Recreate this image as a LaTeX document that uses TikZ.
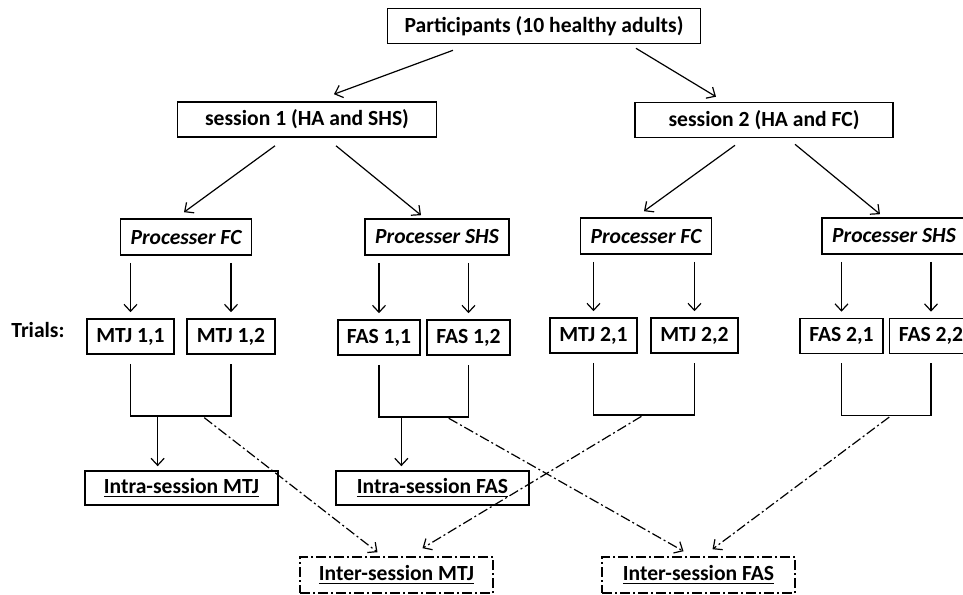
\documentclass[tikz,border=0pt]{standalone}
\usepackage{fontspec}
\setmainfont{Carlito}
\usetikzlibrary{calc,arrows.meta}

\begin{document}
\begin{tikzpicture}[
  x=0.5pt, y=-0.5pt,
  >={Straight Barb[length=3.5pt, width=6.5pt]},
  every node/.style={font=\fontsize{10.8}{13}\selectfont\bfseries, inner sep=1pt},
  box/.style={draw, line width=0.8pt, minimum height=17.5pt},
  procbox/.style={box, font=\fontsize{10.8}{13}\selectfont\bfseries\itshape, minimum height=18pt},
  interbox/.style={box, minimum height=18pt, dash pattern=on 5pt off 1.5pt on 1pt off 1.5pt},
  link/.style={->, line width=0.6pt},
  drop/.style={link, shorten <=3.5pt, shorten >=3pt},
  crosslink/.style={link, shorten <=1.5pt, dash pattern=on 5pt off 1.5pt on 1pt off 1.5pt},
  bracket/.style={line width=0.7pt}
]
  \useasboundingbox (0,0) rectangle (963,594);

  \node[box, minimum width=156.5pt] (part) at (544,26) {Participants (10 healthy adults)};
  \node[box, minimum width=129.5pt] (s1) at (307,119.5) {session 1 (HA and SHS)};
  \node[box, minimum width=129pt] (s2) at (764,120) {session 2 (HA and FC)};

  \node[procbox, minimum width=65.5pt] (fc1) at (186,237) {Processer FC};
  \node[procbox, minimum width=72pt] (shs1) at (437,237) {Processer SHS};
  \node[procbox, minimum width=65.5pt] (fc2) at (646,236) {Processer FC};
  \node[procbox, minimum width=72pt] (shs2) at (894,236) {Processer SHS};

  \node (trials) at (38,330) {Trials:};
  \node[box, minimum width=43.5pt] (m11) at (130.5,336.5) {MTJ 1,1};
  \node[box, minimum width=44pt] (m12) at (231,336.5) {MTJ 1,2};
  \node[box, minimum width=41pt] (f11) at (379,337.5) {FAS 1,1};
  \node[box, minimum width=41.5pt] (f12) at (468.5,337.5) {FAS 1,2};
  \node[box, minimum width=43.5pt] (m21) at (593.5,335.5) {MTJ 2,1};
  \node[box, minimum width=43.5pt] (m22) at (694.5,335.5) {MTJ 2,2};
  \node[box, minimum width=41.5pt] (f21) at (841.5,336) {FAS 2,1};
  \node[box, minimum width=41.5pt] (f22) at (931,336) {FAS 2,2};

  \node[box, minimum width=96.5pt, minimum height=17pt] (imtj) at (181.5,488) {\underline{Intra-session MTJ}};
  \node[box, minimum width=96.5pt, minimum height=17pt] (ifas) at (432.5,488) {\underline{Intra-session FAS}};
  \node[interbox, minimum width=96.5pt] (emtj) at (396.5,575) {\underline{Inter-session MTJ}};
  \node[interbox, minimum width=96.5pt] (efas) at (698.5,575) {\underline{Inter-session FAS}};

  \draw[link] ([xshift=-45.5pt, yshift=-3pt]part.south) -- ([xshift=13.5pt, yshift=3.5pt]s1.north);
  \draw[link] ([xshift=46pt, yshift=-2pt]part.south) -- ([xshift=-24pt, yshift=2.5pt]s2.north);

  \draw[link] ([xshift=-16pt, yshift=-4pt]s1.south) -- ([xshift=-1pt, yshift=3pt]fc1.north);
  \draw[link] ([xshift=14.5pt, yshift=-4pt]s1.south) -- ([xshift=-8pt, yshift=1.5pt]shs1.north);
  \draw[link] ([xshift=-14.5pt, yshift=-3.5pt]s2.south) -- ([xshift=-1pt, yshift=3pt]fc2.north);
  \draw[link] ([xshift=15.5pt, yshift=-3pt]s2.south) -- ([xshift=-7pt, yshift=1.5pt]shs2.north);

  \draw[drop] (fc1.south -| m11.north) -- (m11.north);
  \draw[drop] (fc1.south -| m12.north) -- (m12.north);
  \draw[drop] (shs1.south -| f11.north) -- (f11.north);
  \draw[drop] (shs1.south -| f12.north) -- (f12.north);
  \draw[drop] (fc2.south -| m21.north) -- (m21.north);
  \draw[drop] (fc2.south -| m22.north) -- (m22.north);
  \draw[drop] (shs2.south -| f21.north) -- (f21.north);
  \draw[drop] (shs2.south -| f22.north) -- (f22.north);

  \draw[bracket] ([yshift=-4.5pt]m11.south) -- ++(0,52) coordinate (b1a) -| ([yshift=-4.5pt]m12.south) coordinate (b1b);
  \draw[bracket] ([yshift=-4.5pt]f11.south) -- ++(0,52) coordinate (b2a) -| ([yshift=-4.5pt]f12.south) coordinate (b2b);
  \draw[bracket] ([yshift=-4.5pt]m21.south) -- ++(0,52) coordinate (b3a) -| ([yshift=-4.5pt]m22.south) coordinate (b3b);
  \draw[bracket] ([yshift=-4.5pt]f21.south) -- ++(0,52) coordinate (b4a) -| ([yshift=-4.5pt]f22.south) coordinate (b4b);

  \coordinate (t1) at ($(b1a)!0.27!(b1a -| b1b)$);
  \coordinate (t2) at ($(b2a)!0.25!(b2a -| b2b)$);
  \coordinate (x1) at ($(b1a)!0.71!(b1a -| b1b)$);
  \coordinate (x2) at ($(b2a)!0.75!(b2a -| b2b)$);
  \coordinate (x3) at ($(b3a)!0.5!(b3a -| b3b)$);
  \coordinate (x4) at ($(b4a)!0.56!(b4a -| b4b)$);

  \draw[link, shorten >=2pt] (t1) -- (t1 |- imtj.north);
  \draw[link, shorten >=2pt] (t2) -- (t2 |- ifas.north);

  \draw[crosslink] (x1) -- ([xshift=-9.5pt, yshift=2pt]emtj.north);
  \draw[crosslink] (x3) -- ([xshift=13pt, yshift=4pt]emtj.north);
  \draw[crosslink] (x2) -- ([xshift=-7.5pt, yshift=2.5pt]efas.north);
  \draw[crosslink] (x4) -- ([xshift=7pt, yshift=3.5pt]efas.north);
\end{tikzpicture}
\end{document}
